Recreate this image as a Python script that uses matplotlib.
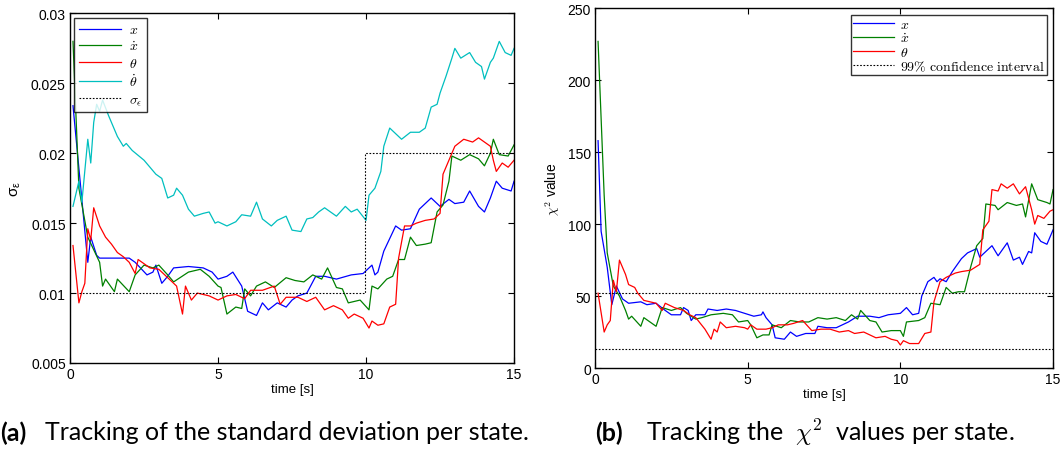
import numpy as np
import matplotlib
matplotlib.use('Agg')
import matplotlib.pyplot as plt

plt.rcParams['mathtext.fontset'] = 'cm'
plt.rcParams['font.family'] = ['Liberation Sans', 'DejaVu Sans']

# (a) standard deviation per state, (time, value) pairs
t_x = [0.1, 0.6, 0.7, 0.9, 1.0, 1.5, 2.0, 2.2, 2.6, 2.8, 2.9, 3.1, 3.3, 3.5, 4.0, 4.5, 4.8, 5.0, 5.3, 5.5, 5.8,
       6.0, 6.3, 6.5, 6.7, 7.0, 7.3, 7.5, 7.7, 8.0, 8.3, 8.6, 9.0, 9.5, 9.9, 10.2, 10.3, 10.4, 10.6, 11.0,
       11.2, 11.5, 11.8, 12.2, 12.5, 12.8, 13.0, 13.3, 13.5, 13.8, 14.0, 14.2, 14.4, 14.6, 14.9, 15.0]
sd_x = [0.0234, 0.0122, 0.0140, 0.0127, 0.0125, 0.0125, 0.0125, 0.0122, 0.0113, 0.0115, 0.0120, 0.0107, 0.0112,
        0.0118, 0.0119, 0.0118, 0.0115, 0.0110, 0.0112, 0.0115, 0.0105, 0.0087, 0.0084, 0.0093, 0.0088, 0.0093,
        0.0090, 0.0095, 0.0098, 0.0100, 0.0112, 0.0112, 0.0110, 0.0113, 0.0114, 0.0120, 0.0113, 0.0115, 0.0130,
        0.0148, 0.0145, 0.0146, 0.0160, 0.0168, 0.0162, 0.0167, 0.0164, 0.0165, 0.0173, 0.0162, 0.0158, 0.0168,
        0.0180, 0.0175, 0.0173, 0.0180]

t_xd = [0.1, 0.3, 0.6, 1.0, 1.1, 1.2, 1.5, 1.6, 2.0, 2.2, 2.5, 2.8, 3.0, 3.3, 3.5, 4.0, 4.4, 4.7, 5.0, 5.1, 5.3,
        5.6, 5.8, 5.9, 6.1, 6.3, 6.6, 6.9, 7.3, 7.6, 7.9, 8.2, 8.5, 8.7, 9.0, 9.2, 9.4, 9.8, 10.1, 10.2, 10.4,
        10.7, 10.9, 11.1, 11.3, 11.5, 11.7, 12.0, 12.2, 12.4, 12.6, 12.8, 12.9, 13.2, 13.5, 13.8, 14.0, 14.2,
        14.3, 14.5, 14.8, 15.0]
sd_xd = [0.0280, 0.0175, 0.0140, 0.0122, 0.0105, 0.0110, 0.0101, 0.0110, 0.0101, 0.0113, 0.0120, 0.0118, 0.0120,
         0.0113, 0.0108, 0.0115, 0.0117, 0.0112, 0.0105, 0.0104, 0.0085, 0.0090, 0.0089, 0.0103, 0.0098, 0.0105,
         0.0108, 0.0104, 0.0111, 0.0109, 0.0108, 0.0113, 0.0110, 0.0118, 0.0104, 0.0103, 0.0093, 0.0095, 0.0088,
         0.0105, 0.0103, 0.0110, 0.0112, 0.0124, 0.0124, 0.0140, 0.0134, 0.0135, 0.0136, 0.0158, 0.0163, 0.0180,
         0.0198, 0.0195, 0.0199, 0.0196, 0.0191, 0.0200, 0.0210, 0.0199, 0.0198, 0.0206]

t_th = [0.1, 0.3, 0.4, 0.5, 0.6, 0.7, 0.8, 1.0, 1.2, 1.4, 1.6, 1.8, 2.0, 2.2, 2.3, 2.7, 3.0, 3.3, 3.6, 3.8, 3.9,
        4.1, 4.3, 4.7, 5.0, 5.3, 5.6, 5.9, 6.1, 6.5, 6.9, 7.1, 7.3, 7.7, 8.0, 8.3, 8.6, 8.9, 9.2, 9.4, 9.6, 9.9,
        10.1, 10.2, 10.4, 10.6, 10.8, 11.0, 11.1, 11.3, 11.5, 11.7, 12.0, 12.3, 12.5, 12.6, 12.8, 13.0, 13.3,
        13.6, 13.8, 14.0, 14.2, 14.3, 14.4, 14.6, 14.8, 15.0]
sd_th = [0.0134, 0.0093, 0.0101, 0.0107, 0.0146, 0.0138, 0.0161, 0.0148, 0.0140, 0.0135, 0.0129, 0.0126, 0.0122,
         0.0114, 0.0124, 0.0118, 0.0117, 0.0111, 0.0105, 0.0085, 0.0105, 0.0095, 0.0100, 0.0098, 0.0095, 0.0098,
         0.0099, 0.0096, 0.0102, 0.0102, 0.0105, 0.0092, 0.0097, 0.0097, 0.0094, 0.0097, 0.0088, 0.0091, 0.0088,
         0.0082, 0.0085, 0.0082, 0.0075, 0.0080, 0.0077, 0.0078, 0.0090, 0.0092, 0.0125, 0.0148, 0.0148, 0.0150,
         0.0152, 0.0153, 0.0157, 0.0185, 0.0195, 0.0205, 0.0210, 0.0208, 0.0211, 0.0208, 0.0205, 0.0195, 0.0187,
         0.0193, 0.0190, 0.0195]

t_thd = [0.1, 0.3, 0.4, 0.6, 0.7, 0.8, 0.9, 1.0, 1.1, 1.3, 1.6, 1.8, 1.9, 2.1, 2.5, 2.9, 3.1, 3.3, 3.5, 3.6, 3.8,
         4.0, 4.2, 4.5, 4.7, 4.9, 5.0, 5.3, 5.6, 5.8, 6.1, 6.3, 6.5, 6.8, 7.0, 7.3, 7.5, 7.8, 8.0, 8.2, 8.4, 8.6,
         9.0, 9.3, 9.5, 9.7, 10.0, 10.1, 10.3, 10.5, 10.6, 10.8, 11.2, 11.5, 11.8, 12.0, 12.2, 12.4, 12.5, 12.7,
         12.9, 13.0, 13.2, 13.5, 13.7, 13.9, 14.0, 14.2, 14.3, 14.5, 14.7, 14.9, 15.0]
sd_thd = [0.0162, 0.0180, 0.0165, 0.0210, 0.0193, 0.0222, 0.0235, 0.0230, 0.0238, 0.0227, 0.0212, 0.0205, 0.0207,
          0.0202, 0.0195, 0.0185, 0.0182, 0.0168, 0.0170, 0.0175, 0.0170, 0.0160, 0.0155, 0.0157, 0.0158, 0.0150,
          0.0151, 0.0148, 0.0151, 0.0156, 0.0155, 0.0165, 0.0153, 0.0148, 0.0152, 0.0155, 0.0145, 0.0144, 0.0153,
          0.0154, 0.0158, 0.0161, 0.0155, 0.0162, 0.0158, 0.0160, 0.0152, 0.0170, 0.0175, 0.0187, 0.0205, 0.0218,
          0.0210, 0.0215, 0.0215, 0.0218, 0.0233, 0.0235, 0.0243, 0.0255, 0.0268, 0.0275, 0.0268, 0.0272, 0.0265,
          0.0262, 0.0253, 0.0265, 0.0268, 0.0280, 0.0272, 0.0270, 0.0275]

t_sig = [0.3, 9.95, 9.95, 15.0]
sig_eps = [0.01, 0.01, 0.02, 0.02]

# (b) chi-square values per state
t_cx = [0.1, 0.2, 0.4, 0.55, 0.7, 0.9, 1.1, 1.5, 1.7, 2.0, 2.3, 2.5, 2.8, 2.9, 3.05, 3.15, 3.3, 3.6, 3.7, 4.0, 4.3,
        4.6, 4.9, 5.2, 5.45, 5.5, 5.6, 5.8, 5.9, 6.2, 6.4, 6.6, 6.9, 7.2, 7.3, 7.6, 7.9, 8.3, 8.6, 9.0, 9.3,
        9.6, 10.0, 10.2, 10.4, 10.6, 10.7, 10.9, 11.1, 11.2, 11.3, 11.5, 11.7, 12.0, 12.2, 12.5, 12.6, 12.8,
        13.0, 13.2, 13.5, 13.7, 13.9, 14.0, 14.2, 14.3, 14.4, 14.6, 14.8, 15.0]
chi_x = [158, 95, 70, 44, 57, 48, 45, 46, 44, 45, 40, 37, 37, 42, 40, 33, 37, 37, 41, 40, 41, 40, 38, 36, 37, 39,
         35, 30, 21, 20, 25, 22, 24, 24, 29, 28, 28, 32, 36, 36, 35, 37, 38, 42, 37, 38, 50, 60, 63, 60, 62, 60,
         67, 76, 80, 83, 77, 81, 85, 78, 87, 75, 77, 72, 81, 80, 94, 88, 86, 96]

t_cxd = [0.1, 0.3, 0.4, 0.6, 0.8, 1.0, 1.1, 1.2, 1.5, 1.6, 2.0, 2.2, 2.5, 2.8, 3.0, 3.3, 3.5, 3.8, 4.2, 4.5, 4.7,
         5.0, 5.1, 5.3, 5.5, 5.7, 5.8, 6.1, 6.4, 6.7, 7.0, 7.3, 7.6, 7.9, 8.2, 8.4, 8.6, 8.7, 9.0, 9.2, 9.4, 9.7,
         10.0, 10.1, 10.2, 10.6, 10.8, 11.0, 11.3, 11.5, 11.7, 11.9, 12.1, 12.3, 12.5, 12.7, 12.8, 13.1, 13.2,
         13.5, 13.8, 14.0, 14.1, 14.3, 14.5, 14.8, 14.9, 15.0]
chi_xd = [227, 120, 80, 57, 50, 40, 34, 36, 29, 35, 29, 42, 40, 42, 38, 34, 35, 37, 38, 37, 32, 33, 30, 21, 23, 23,
          30, 28, 33, 32, 32, 35, 34, 35, 33, 37, 34, 40, 33, 32, 25, 26, 26, 22, 32, 33, 35, 45, 44, 56, 52, 53,
          53, 70, 85, 90, 114, 113, 110, 115, 113, 114, 105, 128, 117, 115, 114, 124]

t_cth = [0.1, 0.3, 0.4, 0.5, 0.6, 0.7, 0.8, 1.0, 1.1, 1.3, 1.4, 1.6, 2.0, 2.2, 2.3, 2.6, 2.9, 3.1, 3.3, 3.6, 3.8,
         3.9, 4.0, 4.1, 4.3, 4.6, 4.9, 5.0, 5.1, 5.3, 5.6, 5.8, 6.0, 6.3, 6.5, 6.8, 7.1, 7.4, 7.7, 8.0, 8.3, 8.5,
         8.8, 9.2, 9.5, 9.7, 9.9, 10.0, 10.1, 10.3, 10.6, 10.8, 11.0, 11.1, 11.3, 11.5, 11.8, 12.0, 12.3, 12.6,
         12.7, 12.9, 13.0, 13.2, 13.3, 13.5, 13.7, 13.9, 14.1, 14.3, 14.4, 14.5, 14.7, 14.9, 15.0]
chi_th = [52, 25, 30, 33, 61, 53, 75, 65, 58, 56, 52, 47, 45, 40, 45, 42, 40, 37, 35, 27, 20, 27, 25, 32, 28, 29,
          28, 27, 30, 27, 27, 28, 30, 30, 31, 33, 26, 27, 27, 25, 26, 24, 25, 21, 22, 20, 19, 16, 19, 17, 17, 24,
          25, 46, 60, 63, 66, 67, 68, 72, 96, 102, 124, 123, 128, 125, 128, 121, 126, 110, 100, 106, 104, 109, 110]

t_ci = [0.0, 15.0]
ci_hi = [52.2, 52.2]
ci_lo = [13.3, 13.3]


def style_axes(ax):
    ax.tick_params(direction='in', top=True, right=True, labelsize=10, length=4, width=0.8, pad=3)
    for s in ax.spines.values():
        s.set_linewidth(1.0)
    ax.set_xlabel('time [s]', fontsize=9.5, labelpad=1)


fig = plt.figure(figsize=(10.61, 4.6), dpi=100)
ax1 = fig.add_axes([0.066, 0.2087, 0.4185, 0.760])
ax2 = fig.add_axes([0.5608, 0.1978, 0.4317, 0.782])

lw = 0.9
dot = (0, (1.5, 1.5))
ax1.plot(t_x, sd_x, color='b', lw=lw, label=r'$x$')
ax1.plot(t_xd, sd_xd, color=(0, 0.5, 0), lw=lw, label=r'$\dot{x}$')
ax1.plot(t_th, sd_th, color='r', lw=lw, label=r'$\theta$')
ax1.plot(t_thd, sd_thd, color=(0, 0.75, 0.75), lw=lw, label=r'$\dot{\theta}$')
ax1.plot(t_sig, sig_eps, color='k', lw=0.8, ls=dot, label=r'$\sigma_\epsilon$')
ax1.set_xlim(0, 15)
ax1.set_ylim(0.005, 0.03)
ax1.set_xticks([0, 5, 10, 15])
ax1.set_yticks([0.005, 0.01, 0.015, 0.02, 0.025, 0.03])
ax1.set_yticklabels(['0.005', '0.01', '0.015', '0.02', '0.025', '0.03'])
ax1.set_ylabel(r'$\mathregular{\sigma_{\epsilon}}$', fontsize=11, labelpad=6)
style_axes(ax1)
leg1 = ax1.legend(loc='upper left', fontsize=10, frameon=True, fancybox=False, edgecolor='k',
                  borderaxespad=0.3, handlelength=3.0, handletextpad=0.6, labelspacing=0.2,
                  borderpad=0.35)
leg1.get_frame().set_linewidth(1.0)

ax2.plot(t_cx, chi_x, color='b', lw=lw, label=r'$x$')
ax2.plot(t_cxd, chi_xd, color=(0, 0.5, 0), lw=lw, label=r'$\dot{x}$')
ax2.plot(t_cth, chi_th, color='r', lw=lw, label=r'$\theta$')
ax2.plot(t_ci, ci_hi, color='k', lw=0.8, ls=dot, label=r'$\mathrm{99\%\ confidence\ interval}$')
ax2.plot(t_ci, ci_lo, color='k', lw=0.8, ls=dot)
ax2.set_xlim(0, 15)
ax2.set_ylim(0, 250)
ax2.set_xticks([0, 5, 10, 15])
ax2.set_yticks([0, 50, 100, 150, 200, 250])
ax2.set_ylabel(r'$\chi^2$ value', fontsize=10, labelpad=4)
style_axes(ax2)
leg2 = ax2.legend(loc='upper right', fontsize=10, frameon=True, fancybox=False, edgecolor='k',
                  borderaxespad=0.45, handlelength=3.0, handletextpad=0.4, labelspacing=0.0, borderpad=0.15)
leg2.get_frame().set_linewidth(1.0)

cap_font = ['Lato', 'DejaVu Sans']
fig.text(0.0, 0.059, '(a)', fontsize=18, fontweight='bold', va='center', ha='left', family=cap_font)
fig.text(0.042, 0.059, 'Tracking of the standard deviation per state.', fontsize=18, va='center', ha='left',
         family=cap_font)
fig.text(0.561, 0.059, '(b)', fontsize=18, fontweight='bold', va='center', ha='left', family=cap_font)
fig.text(0.609, 0.059, r'Tracking the  $\chi^2$  values per state.', fontsize=18, va='center', ha='left',
         family=cap_font)

fig.savefig('out.png', dpi=100)
